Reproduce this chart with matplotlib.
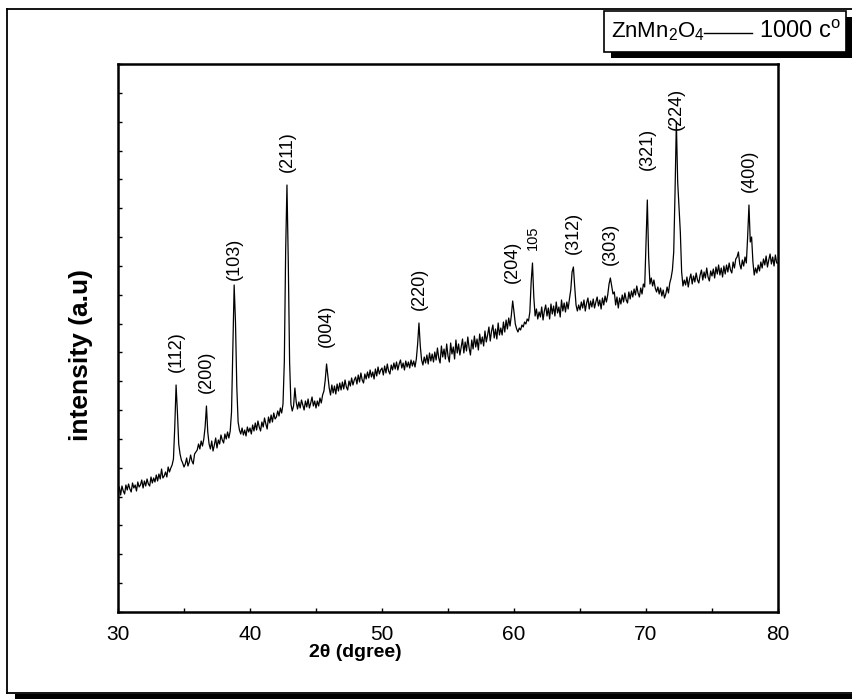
import numpy as np
import matplotlib
matplotlib.use("Agg")
import matplotlib.pyplot as plt
from matplotlib import font_manager
from matplotlib.patches import Rectangle
from matplotlib.lines import Line2D
from matplotlib.ticker import MultipleLocator

# -------------------------
# DATA: XRD pattern of ZnMn2O4 annealed at 1000 C (0.1 deg steps)
# -------------------------
two_theta_start = 30.0
two_theta_step = 0.1
intensity = [
    120, 125, 117, 126, 121, 118, 127, 122, 128, 123,   # 30
    120, 129, 124, 127, 121, 130, 125, 127, 132, 124,   # 31
    131, 126, 133, 128, 126, 135, 129, 134, 130, 137,   # 32
    131, 138, 133, 143, 134, 136, 140, 135, 145, 140,   # 33
    144, 147, 153, 185, 227, 200, 168, 158, 152, 149,   # 34
    145, 148, 154, 146, 150, 157, 151, 148, 158, 160,   # 35
    162, 168, 163, 171, 166, 173, 185, 206, 180, 168,   # 36
    163, 171, 161, 167, 174, 164, 172, 168, 177, 172,   # 37
    169, 178, 173, 180, 174, 181, 200, 265, 327, 290,   # 38
    225, 190, 182, 178, 184, 177, 182, 176, 185, 180,   # 39
    184, 178, 187, 181, 189, 182, 191, 185, 181, 190,   # 40
    185, 194, 188, 183, 195, 189, 197, 190, 199, 193,   # 41
    195, 201, 196, 204, 199, 208, 250, 360, 427, 350,   # 42
    250, 208, 201, 206, 224, 210, 203, 210, 204, 212,   # 43
    207, 202, 211, 205, 213, 204, 209, 215, 206, 211,   # 44
    204, 211, 206, 214, 209, 217, 221, 232, 248, 236,   # 45
    224, 217, 227, 219, 226, 218, 228, 221, 229, 222,   # 46
    230, 223, 232, 225, 222, 231, 226, 234, 227, 232,   # 47
    235, 228, 237, 230, 239, 232, 229, 238, 233, 240,   # 48
    234, 242, 235, 240, 233, 243, 236, 245, 238, 242,   # 49
    244, 237, 246, 239, 248, 241, 238, 247, 242, 249,   # 50
    243, 250, 242, 248, 252, 244, 249, 242, 251, 245,   # 51
    250, 244, 252, 246, 251, 245, 253, 268, 289, 266,   # 52
    252, 247, 255, 249, 257, 248, 259, 251, 258, 250,   # 53
    260, 252, 264, 254, 249, 266, 255, 263, 253, 268,   # 54
    256, 250, 269, 258, 265, 253, 272, 259, 268, 257,   # 55
    265, 273, 259, 270, 261, 275, 264, 257, 272, 263,   # 56
    276, 265, 273, 262, 278, 268, 275, 266, 281, 270,   # 57
    277, 285, 271, 281, 287, 274, 283, 273, 289, 277,   # 58
    284, 277, 290, 280, 292, 283, 294, 286, 297, 311,   # 59
    300, 288, 283, 280, 284, 282, 287, 285, 290, 288,   # 60
    293, 291, 300, 330, 349, 315, 296, 303, 293, 300,   # 61
    295, 305, 292, 301, 307, 296, 304, 293, 308, 298,   # 62
    306, 296, 310, 299, 305, 295, 312, 301, 309, 300,   # 63
    310, 303, 313, 322, 340, 345, 325, 307, 301, 307,   # 64
    302, 310, 304, 312, 301, 309, 314, 303, 311, 305,   # 65
    313, 304, 310, 315, 306, 312, 303, 314, 307, 316,   # 66
    310, 317, 328, 334, 326, 318, 320, 307, 315, 304,   # 67
    314, 308, 317, 310, 319, 312, 309, 320, 313, 321,   # 68
    315, 323, 317, 326, 319, 315, 324, 318, 328, 325,   # 69
    370, 412, 355, 328, 334, 326, 332, 324, 320, 325,   # 70
    318, 324, 316, 322, 314, 318, 325, 319, 329, 334,   # 71
    342, 360, 420, 490, 430, 405, 380, 340, 326, 332,   # 72
    327, 335, 325, 333, 338, 328, 336, 330, 339, 332,   # 73
    329, 337, 342, 332, 340, 334, 344, 335, 331, 341,   # 74
    336, 343, 334, 345, 338, 347, 337, 344, 335, 346,   # 75
    338, 347, 340, 349, 342, 339, 350, 344, 353, 355,   # 76
    360, 348, 343, 352, 346, 355, 349, 375, 407, 370,   # 77
    375, 350, 337, 344, 339, 347, 341, 350, 344, 353,   # 78
    347, 356, 345, 352, 358, 348, 355, 346, 357, 349,   # 79
    349,                                                # 80
]
two_theta = two_theta_start + two_theta_step * np.arange(len(intensity))

# Miller indices of the indexed reflections and their peak positions
peak_labels = ["(112)", "(200)", "(103)", "(211)", "(004)", "(220)", "(204)",
               "105", "(312)", "(303)", "(321)", "(224)", "(400)"]
peak_pos = [34.4, 36.7, 38.8, 42.8, 45.8, 52.8, 59.9,
            61.4, 64.5, 67.3, 70.1, 72.3, 77.8]

# -------------------------
# FONTS
# -------------------------
names = {f.name for f in font_manager.fontManager.ttflist}
sans = "Liberation Sans" if "Liberation Sans" in names else "DejaVu Sans"
plt.rcParams["font.family"] = [sans, "DejaVu Sans"]
plt.rcParams["mathtext.default"] = "regular"

W, H = 853, 699
fig = plt.figure(figsize=(W / 100, H / 100), dpi=100)


def px(x, y):
    # pixel position (from top-left) -> figure fraction
    return x / W, 1 - y / H


def fig_line(x0, y0, x1, y1, lw=1.3, z=2):
    (a, b), (c, d) = px(x0, y0), px(x1, y1)
    fig.add_artist(Line2D([a, c], [b, d], color="black", lw=lw,
                          transform=fig.transFigure, zorder=z))


# outer frame: left, top, bottom edges and a shadow along the bottom
fig.patches.append(Rectangle(px(15, 699), 1 - 15 / W, 5 / H,
                             transform=fig.transFigure, facecolor="black",
                             edgecolor="none", zorder=0))
fig_line(7, 9, W, 9)
fig_line(7, 9, 7, 693)
fig_line(7, 693, W, 693)

# -------------------------
# MAIN AXES
# -------------------------
ax = fig.add_axes([118 / W, 1 - 612 / H, (778 - 118) / W, (612 - 64) / H])
ax.set_zorder(2)
ax.plot(two_theta, intensity, color="black", lw=0.9)

ax.set_xlim(30, 80)
ax.set_ylim(0, 548)
ax.xaxis.set_major_locator(MultipleLocator(10))
ax.xaxis.set_minor_locator(MultipleLocator(5))
ax.yaxis.set_major_locator(MultipleLocator(548 / 19))
ax.tick_params(axis="both", which="both", direction="in", length=3,
               width=1, top=False, right=False)
ax.tick_params(axis="x", which="major", pad=9, labelsize=15)
ax.tick_params(axis="y", labelleft=False)
for sp in ax.spines.values():
    sp.set_linewidth(1.8)

ax.set_xlabel("2θ (dgree)", fontsize=14, fontweight="bold")
ax.xaxis.set_label_coords(0.359, -0.058)
ax.xaxis.label.set_va("top")
ax.set_ylabel("intensity (a.u)", fontsize=19, fontweight="bold")
ax.yaxis.set_label_coords(-0.038, 0.469)

# reflection labels sit just above each peak
gaps = {"(103)": 5, "(321)": 30, "(224)": -8, "(204)": 18, "(004)": 17}
for lab, pos in zip(peak_labels, peak_pos):
    idx = int(round((pos - two_theta_start) / two_theta_step))
    y = intensity[idx] + gaps.get(lab, 13)
    ax.text(pos, y, lab, rotation=90, ha="center", va="bottom",
            fontsize=10.5 if lab == "105" else 13)

# -------------------------
# LEGEND BOX
# -------------------------
fig.patches.append(Rectangle(px(611, 58), (W - 611) / W, (58 - 17) / H,
                             transform=fig.transFigure, facecolor="black",
                             edgecolor="none", zorder=3))
fig.patches.append(Rectangle(px(604, 52), (846 - 604) / W, (52 - 11) / H,
                             transform=fig.transFigure, facecolor="white",
                             edgecolor="black", lw=1.2, zorder=4))
fig.text(*px(611, 32), "ZnMn$_2$O$_4$", fontsize=16, ha="left", va="center",
         zorder=5)
fig.add_artist(Line2D([704 / W, 752 / W], [1 - 33 / H, 1 - 33 / H],
                      color="black", lw=1, transform=fig.transFigure, zorder=5))
fig.text(*px(759, 32), "1000 c$^{o}$", fontsize=17, ha="left", va="center",
         zorder=5)

fig.savefig("out.png", dpi=100)
